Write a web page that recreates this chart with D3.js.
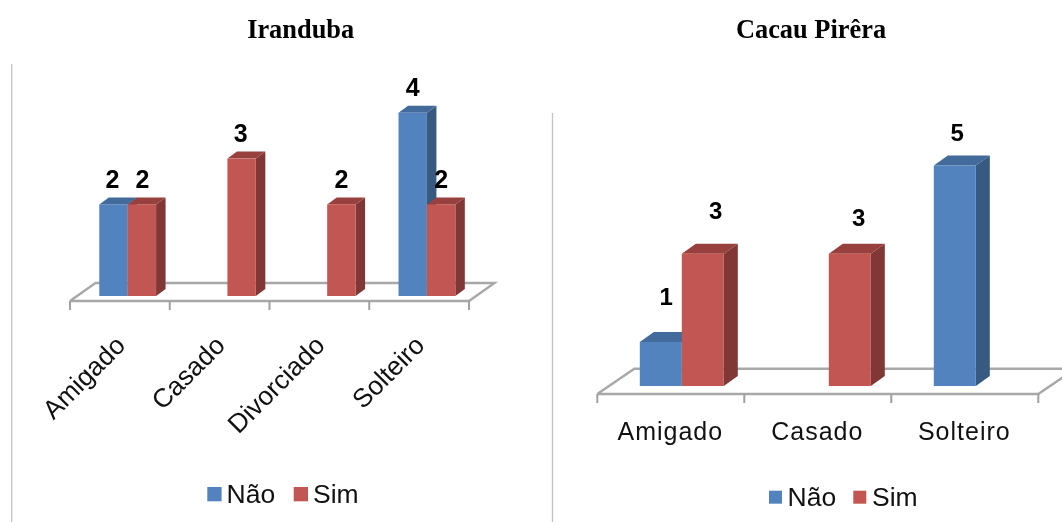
<!DOCTYPE html>
<html><head><meta charset="utf-8">
<script src="https://cdn.jsdelivr.net/npm/d3@7/dist/d3.min.js"></script>
<style>html,body{margin:0;background:#fff}svg{display:block}</style></head>
<body><svg id="c" width="1062" height="522"></svg>
<script>
const seriesNames = ["Não", "Sim"];
const titles = ["Iranduba", "Cacau Pirêra"];
const irCategories = ["Amigado", "Casado", "Divorciado", "Solteiro"];
const irNao = [2, null, null, 4];
const irSim = [2, 3, 2, 2];
const cpCategories = ["Amigado", "Casado", "Solteiro"];
const cpNao = [1, null, 5];
const cpSim = [3, 3, null];

const colors = {
  face: ["#5383BE", "#C25652"],
  side: ["#375A80", "#803735"],
  top: ["#426A9A", "#98403E"]
};
const svg = d3.select("#c");
const root = svg.append("g").style("filter", "blur(0.45px)");

function panel(o) {
  const g = root.append("g");
  g.append("line").attr("x1", o.rule).attr("x2", o.rule).attr("y1", o.ruleTop).attr("y2", 522)
    .attr("stroke", "#c4c4c4").attr("stroke-width", 1.3);
  g.append("text").text(o.title).attr("x", o.titleX).attr("y", 38.3).attr("text-anchor", "middle")
    .attr("font-family", "Liberation Serif").attr("font-weight", "bold").attr("font-size", 26.4);

  const x = d3.scaleBand().domain(o.categories).range(o.xRange);
  const y = d3.scaleLinear().domain([0, 1]).range([o.base, o.base - o.unit]);
  const barW = o.barW;

  // floor
  const x0 = o.xRange[0], x1 = o.xRange[1], fy = o.floorY;
  g.append("path").attr("fill", "none").attr("stroke", "#a8a8a8").attr("stroke-width", 2.4)
    .attr("d", d3.line()([[x0, fy], [x0 + o.fdx, fy - o.fdy], [x1 + o.fdx, fy - o.fdy], [x1, fy], [x0, fy]]));

  // category axis: labels via d3 axis, ticks at band edges
  const edges = [...o.categories.map(c => x(c)), x1];
  g.selectAll(".t").data(edges).join("line")
    .attr("x1", d => d).attr("x2", d => d).attr("y1", fy).attr("y2", fy + o.tick)
    .attr("stroke", "#a0a0a0").attr("stroke-width", 2);
  const ax = g.append("g").attr("transform", `translate(0,${o.labelY})`).call(d3.axisBottom(x).tickSize(0));
  ax.select(".domain").remove();
  const tx = ax.selectAll("text").attr("font-family", "Liberation Sans").attr("font-size", o.catSize).attr("fill", "#111");
  if (o.rotate) tx.attr("text-anchor", "end").attr("dy", 0).attr("y", 0).attr("transform", `translate(${o.labelDx},0) rotate(-45)`);
  else tx.attr("dy", 0).attr("y", 0).attr("letter-spacing", o.catSpacing).attr("transform", `translate(${o.labelDx},0)`);

  // bars
  o.series.forEach((vals, s) => {
    const offs = o.barOffset + (s - 1) * barW;
    const rows = o.categories.map((c, i) => ({ c, i, v: vals[i] })).filter(d => d.v != null);
    const bx = d => x(d.c) + x.bandwidth() / 2 + offs;
    const b = g.append("g");
    b.selectAll(".side").data(rows).join("path").attr("fill", colors.side[s])
      .attr("d", d => d3.line()([[bx(d) + barW, y(d.v)], [bx(d) + barW + o.dx, y(d.v) - o.dy], [bx(d) + barW + o.dx, y(0) - o.dy], [bx(d) + barW, y(0)]]));
    b.selectAll(".top").data(rows).join("path").attr("fill", colors.top[s])
      .attr("d", d => d3.line()([[bx(d), y(d.v)], [bx(d) + o.dx, y(d.v) - o.dy], [bx(d) + barW + o.dx, y(d.v) - o.dy], [bx(d) + barW, y(d.v)]]));
    b.selectAll(".face").data(rows).join("rect").attr("fill", colors.face[s])
      .attr("x", bx).attr("width", barW).attr("y", d => y(d.v)).attr("height", d => y(0) - y(d.v));
  });
  // value labels, each nudged as in the source
  o.series.forEach((vals, s) => {
    o.categories.forEach((c, i) => {
      if (vals[i] == null) return;
      const n = o.nudge[s][i];
      g.append("text").text(vals[i]).attr("text-anchor", "middle")
        .attr("x", x(c) + x.bandwidth() / 2 + o.barOffset + (s - 0.5) * barW + n[0])
        .attr("y", y(vals[i]) + n[1])
        .attr("font-family", "Liberation Sans").attr("font-weight", "bold").attr("font-size", o.valSize);
    });
  });
  // legend
  const lg = g.append("g");
  seriesNames.forEach((n, s) => {
    lg.append("rect").attr("x", o.legend[s]).attr("y", o.swY).attr("width", o.sw).attr("height", o.sw).attr("fill", colors.face[s]);
    lg.append("text").text(n).attr("x", o.legendText[s]).attr("y", o.legendY)
      .attr("font-family", "Liberation Sans").attr("font-size", 26.5).attr("fill", "#111");
  });
}

panel({
  title: titles[0], titleX: 300.7, rule: 11.7, ruleTop: 64,
  categories: irCategories, series: [irNao, irSim],
  xRange: [70, 469], base: 296, unit: 45.8, barW: 28.4, barOffset: 7.8,
  dx: 9.5, dy: 7, floorY: 301, fdx: 25.5, fdy: 18, tick: 9,
  labelY: 347, labelDx: 7, rotate: true, catSize: 26.3, valSize: 25,
  nudge: [[[-1, -16], null, null, [0, -17]], [[0.7, -16], [-1, -17], [0, -16], [0, -16]]],
  legend: [207.3, 293.7], legendText: [226.5, 313], swY: 487, sw: 14.3, legendY: 503.3
});
panel({
  title: titles[1], titleX: 811, rule: 552.5, ruleTop: 113,
  categories: cpCategories, series: [cpNao, cpSim],
  xRange: [597.3, 1038.3], base: 386, unit: 44.1, barW: 42, barOffset: 11,
  dx: 14, dy: 10, floorY: 394, fdx: 37, fdy: 25.3, tick: 9,
  labelY: 440, labelDx: -0.5, rotate: false, catSize: 25, catSpacing: 1, valSize: 24,
  nudge: [[[5.5, -37], null, [2.5, -25]], [[13, -35], [9, -28], null]],
  legend: [769, 853.3], legendText: [787.5, 872], swY: 490.7, sw: 13, legendY: 506
});
</script></body></html>
